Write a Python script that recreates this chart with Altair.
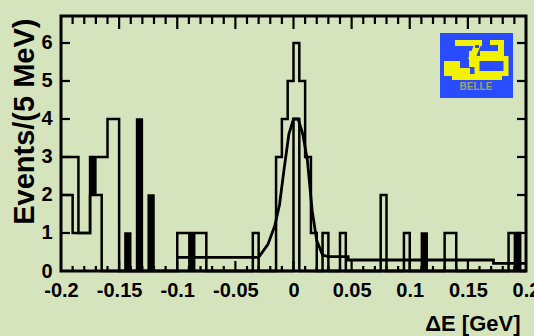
import urllib.parse

import altair as alt
import pandas as pd

# Delta-E spectrum: 80 bins of 5 MeV from -0.2 to 0.2 GeV
DE_MIN, DE_MAX, BIN = -0.2, 0.2, 0.005

# candidates per bin (outer open histogram)
total_counts = [3, 3, 3, 1, 1, 3, 3, 3, 4, 4,
                0, 0, 0, 0, 0, 0, 0, 0, 0, 0,
                1, 1, 1, 1, 1, 0, 0, 0, 0, 0,
                0, 0, 0, 1, 0, 0, 0, 3, 4, 5,
                6, 5, 3, 1, 0, 1, 0, 0, 1, 0,
                0, 0, 0, 0, 0, 2, 0, 0, 0, 1,
                0, 0, 0, 0, 0, 0, 1, 1, 0, 0,
                0, 0, 0, 0, 0, 0, 0, 1, 1, 0]

# second open histogram drawn inside the first
inner_counts = [2, 2, 1, 1, 1, 2, 2, 0, 0, 0,
                0, 0, 0, 0, 0, 0, 0, 0, 0, 0,
                0, 0, 0, 0, 0, 0, 0, 0, 0, 0,
                0, 0, 0, 0, 0, 0, 0, 0, 0, 0,
                4, 0, 0, 0, 0, 0, 0, 0, 0, 0,
                0, 0, 0, 0, 0, 0, 0, 0, 0, 0,
                0, 0, 0, 0, 0, 0, 0, 0, 0, 0,
                0, 0, 0, 0, 0, 0, 0, 0, 0, 0]

# solid black entries: bin index, lower and upper edge in events
filled_bins = [5, 11, 13, 15, 22, 62, 78]
filled_low = [2, 0, 0, 0, 0, 0, 0]
filled_high = [3, 1, 4, 2, 1, 1, 1]

# fit: signal peak on a flat background
fit_de = [-0.100, -0.030, -0.022, -0.016, -0.012, -0.008, -0.004, 0.000,
          0.004, 0.008, 0.012, 0.016, 0.020, 0.025, 0.030, 0.047, 0.047,
          0.172, 0.172, 0.200]
fit_val = [0.36, 0.36, 0.70, 1.20, 1.75, 2.70, 3.60, 4.00,
           4.00, 3.60, 2.90, 1.60, 0.80, 0.42, 0.38, 0.38, 0.29,
           0.29, 0.20, 0.20]

x_tick_labels = [-0.2, -0.15, -0.1, -0.05, 0, 0.05, 0.1, 0.15, 0.2]
y_tick_labels = [0, 1, 2, 3, 4, 5, 6]
x_minor_ticks = [k / 100 for k in range(-19, 20) if k % 5 != 0]
x_major_ticks = [-0.15, -0.1, -0.05, 0, 0.05, 0.1, 0.15]

W, H = 465, 255
FONT = "Liberation Sans"
BG = "#d6e4be"
LW = 2.5

edges = [round(DE_MIN + i * BIN, 4) for i in range(81)]


def step_frame(counts):
    rows = [{"de": edges[i], "n": counts[i]} for i in range(len(counts))]
    rows.append({"de": edges[-1], "n": counts[-1]})
    return pd.DataFrame(rows)


xscale = alt.Scale(domain=[DE_MIN, DE_MAX], nice=False, zero=False)
yscale = alt.Scale(domain=[0, 6.71], nice=False, zero=True)

xaxis = alt.Axis(
    values=x_tick_labels, ticks=False, tickSize=0, domain=False, grid=False,
    labelFont=FONT, labelFontSize=20, labelFontWeight="bold", labelColor="black",
    labelPadding=9, labelFlush=False,
    labelExpr="replace(format(datum.value, '~g'), '\u2212', '-')",
    title="\u0394E [GeV]", titleFont=FONT, titleFontSize=22, titleFontWeight="bold",
    titleColor="black", titleAnchor="end", titleAlign="right", titleBaseline="alphabetic",
    titleX=459, titleY=59,
)
yaxis = alt.Axis(
    values=y_tick_labels, ticks=False, tickSize=0, domain=False, grid=False,
    labelFont=FONT, labelFontSize=20, labelFontWeight="bold", labelColor="black",
    labelPadding=9, labelFlush=False,
    title="Events/(5 MeV)", titleFont=FONT, titleFontSize=29, titleFontWeight="bold",
    titleColor="black", titleAngle=270, titleAlign="right", titleBaseline="alphabetic",
    titleAnchor="end", titleX=-28, titleY=2,
)


def X(field):
    return alt.X(f"{field}:Q", scale=xscale, axis=xaxis)


def Y(field):
    return alt.Y(f"{field}:Q", scale=yscale, axis=yaxis)


outer = alt.Chart(step_frame(total_counts)).mark_line(
    interpolate="step-after", color="black", strokeWidth=LW
).encode(x=X("de"), y=Y("n"))

inner = alt.Chart(step_frame(inner_counts)).mark_line(
    interpolate="step-after", color="black", strokeWidth=LW
).encode(x=X("de"), y=Y("n"))

filled_df = pd.DataFrame({
    "lo_edge": [edges[b] for b in filled_bins],
    "hi_edge": [edges[b + 1] for b in filled_bins],
    "low": filled_low,
    "high": filled_high,
})
filled = alt.Chart(filled_df).mark_rect(
    color="black", stroke="black", strokeWidth=1.5
).encode(x=X("lo_edge"), x2="hi_edge", y=Y("low"), y2="high")

fit_df = pd.DataFrame({"de": fit_de, "f": fit_val, "k": list(range(len(fit_de)))})
fit = alt.Chart(fit_df).mark_line(color="black", strokeWidth=2.8).encode(
    x=X("de"), y=Y("f"), order="k:Q"
)

# inward ticks on all four sides of the frame
minor_df = pd.DataFrame({"t": x_minor_ticks})
major_df = pd.DataFrame({"t": x_major_ticks})
ytick_df = pd.DataFrame({"v": y_tick_labels[1:]})

bottom_minor = alt.Chart(minor_df).mark_rule(color="black", strokeWidth=2.2).encode(
    x=X("t"), y=alt.value(H), y2=alt.value(H - 5))
bottom_major = alt.Chart(major_df).mark_rule(color="black", strokeWidth=2.2).encode(
    x=X("t"), y=alt.value(H), y2=alt.value(H - 10))
top_minor = alt.Chart(minor_df).mark_rule(color="black", strokeWidth=2.2).encode(
    x=X("t"), y=alt.value(0), y2=alt.value(8))
top_major = alt.Chart(major_df).mark_rule(color="black", strokeWidth=2.2).encode(
    x=X("t"), y=alt.value(0), y2=alt.value(13))
left_ticks = alt.Chart(ytick_df).mark_rule(color="black", strokeWidth=2.2).encode(
    y=Y("v"), x=alt.value(0), x2=alt.value(9))
right_ticks = alt.Chart(ytick_df).mark_rule(color="black", strokeWidth=2.2).encode(
    y=Y("v"), x=alt.value(W), x2=alt.value(W - 9))

# experiment logo in the upper right corner
logo_svg = (
    "<svg xmlns='http://www.w3.org/2000/svg' width='73' height='65'>"
    "<rect width='73' height='65' fill='#2a4cff'/>"
    "<g fill='#f2f200'>"
    "<rect x='15' y='7' width='27' height='6'/>"
    "<rect x='50' y='7' width='13' height='5'/>"
    "<rect x='58' y='7' width='6' height='16'/>"
    "<rect x='40' y='18' width='24' height='5'/>"
    "<polygon points='34,12 41,12 35,26 28,26'/>"
    "<rect x='29' y='18' width='6' height='16'/>"
    "<rect x='4' y='28' width='16' height='15'/>"
    "<rect x='12' y='35' width='18' height='10'/>"
    "<rect x='12' y='41' width='50' height='6'/>"
    "</g>"
    "<rect x='37' y='25.5' width='29' height='15' fill='none' stroke='#f2f200' stroke-width='5'/>"
    "<rect x='35' y='12' width='4' height='3' fill='#2a4cff'/>"
    "<text x='36' y='57' font-family='Liberation Sans' font-weight='bold' font-size='10'"
    " fill='#9aa46a' text-anchor='middle'>BELLE</text>"
    "</svg>"
)
logo_url = "data:image/svg+xml;charset=utf-8," + urllib.parse.quote(logo_svg)
logo = alt.Chart(pd.DataFrame({"url": [logo_url]})).mark_image(
    width=73, height=65, aspect=False, align="left", baseline="top"
).encode(x=alt.value(379), y=alt.value(17), url="url:N")

chart = alt.layer(
    fit, inner, outer, filled,
    bottom_minor, bottom_major, top_minor, top_major, left_ticks, right_ticks,
    logo,
).properties(
    width=W, height=H,
    autosize=alt.AutoSizeParams(type="none"),
    padding={"left": 61, "top": 16, "right": 8, "bottom": 65},
    background=BG,
).configure_view(
    stroke="black", strokeWidth=3, fill=BG
)

chart.save("out.html", embed_options={"renderer": "svg", "actions": False})
